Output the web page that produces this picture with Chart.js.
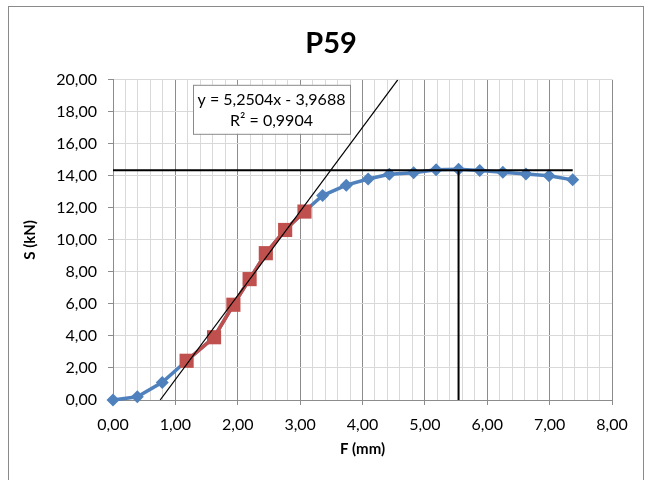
<!DOCTYPE html>
<html>
<head>
<meta charset="utf-8">
<script src="https://cdn.jsdelivr.net/npm/chart.js@4.4.1/dist/chart.umd.min.js"></script>
<style>
  html, body { margin: 0; padding: 0; background: #fff; }
  #wrap { width: 649px; height: 480px; }
</style>
</head>
<body>
<div id="wrap"><canvas id="grafico" width="649" height="480"></canvas></div>
<script>
// Pontos medidos (F em mm, S em kN)
const desloc = [0.00, 0.39, 0.79, 1.18, 1.62, 1.93, 2.19, 2.45, 2.76, 3.07, 3.36, 3.74, 4.09, 4.43, 4.82, 5.18, 5.54, 5.88, 6.25, 6.62, 6.99, 7.37];
const carga  = [0.00, 0.20, 1.10, 2.45, 3.92, 5.95, 7.55, 9.17, 10.62, 11.77, 12.77, 13.42, 13.80, 14.10, 14.20, 14.38, 14.42, 14.33, 14.23, 14.12, 14.00, 13.75];

// trecho usado na regressão (quadrados vermelhos)
const trechoIni = 3;
const trechoFim = 9;

// reta de tendência y = 5,2504x - 3,9688 (extremos)
const tendX = [0.756, 4.565];
const tendY = [0, 20];

// linhas de referência
const cargaMax = 14.35;
const fimHoriz = 7.37;
const deslocMax = 5.54;

const equacao = ['y = 5,2504x - 3,9688', 'R² = 0,9904'];

const fmt = v => v.toFixed(2).replace('.', ',');
const inteiro = v => Math.abs(v - Math.round(v)) < 1e-6;

const pts = (xs, ys) => xs.map((x, i) => ({ x: x, y: ys[i] }));

Chart.defaults.font.family = 'Lato, "Open Sans", sans-serif';
Chart.defaults.color = '#000';

// moldura da área do gráfico
const moldura = {
    id: 'moldura',
    beforeDraw(chart) {
        const c = chart.ctx;
        c.save();
        c.fillStyle = '#fff';
        c.fillRect(0, 0, chart.width, chart.height);
        c.strokeStyle = '#8a8a8a';
        c.lineWidth = 1;
        c.strokeRect(8.5, 6.5, 635, 480);
        c.restore();
    }
};

// caixa com a equação da reta
const caixaEq = {
    id: 'caixaEq',
    afterDatasetsDraw(chart) {
        const c = chart.ctx;
        const a = chart.chartArea;
        const x0 = a.left + 80, y0 = a.top + 5, w = 157, h = 49;
        c.save();
        c.fillStyle = '#fff';
        c.fillRect(x0, y0, w, h);
        c.strokeStyle = '#8a8a8a';
        c.lineWidth = 1;
        c.strokeRect(x0 + 0.5, y0 + 0.5, w, h);
        c.fillStyle = '#000';
        c.font = '16px Lato, "Open Sans", sans-serif';
        c.textAlign = 'center';
        c.textBaseline = 'middle';
        c.fillText(equacao[0], x0 + w / 2, y0 + 15);
        c.fillText(equacao[1], x0 + w / 2, y0 + 36);
        c.restore();
    }
};

const ctx = document.getElementById('grafico').getContext('2d');
new Chart(ctx, {
    type: 'line',
    data: {
        datasets: [
            {
                data: pts(tendX, tendY),
                borderColor: '#000',
                borderWidth: 1.2,
                pointRadius: 0
            },
            {
                data: [{ x: 0, y: cargaMax }, { x: fimHoriz, y: cargaMax }],
                borderColor: '#000',
                borderWidth: 2,
                pointRadius: 0
            },
            {
                data: [{ x: deslocMax, y: 0 }, { x: deslocMax, y: cargaMax }],
                borderColor: '#000',
                borderWidth: 2,
                pointRadius: 0
            },
            {
                data: pts(desloc, carga).slice(trechoIni, trechoFim + 1),
                borderColor: '#C0504D',
                backgroundColor: '#C0504D',
                borderWidth: 3.5,
                pointStyle: 'rect',
                pointRadius: 10,
                pointBorderWidth: 0,
                clip: false
            },
            {
                data: pts(desloc, carga),
                borderColor: '#4F81BD',
                backgroundColor: '#4F81BD',
                borderWidth: 3.5,
                pointStyle: 'rectRot',
                pointRadius: 6.5,
                pointBorderWidth: 0,
                clip: false
            }
        ]
    },
    options: {
        responsive: false,
        animation: false,
        layout: { padding: { left: 50, right: 37, top: 6, bottom: 0 } },
        plugins: {
            legend: { display: false },
            tooltip: { enabled: false },
            title: {
                display: true,
                text: 'P59',
                font: { size: 29, weight: 'bold' },
                padding: { top: 20, bottom: 19 }
            }
        },
        scales: {
            x: {
                type: 'linear',
                min: 0,
                max: 8,
                afterFit: s => { s.height = 80; },
                ticks: {
                    stepSize: 0.2,
                    autoSkip: false,
                    maxRotation: 0,
                    maxTicksLimit: 100,
                    padding: 10,
                    font: { size: 16 },
                    callback: v => inteiro(v) ? fmt(v) : ''
                },
                grid: {
                    color: c => inteiro(c.tick.value) ? '#8c8c8c' : '#d9d9d9',
                    tickColor: c => inteiro(c.tick.value) ? '#8c8c8c' : 'rgba(0,0,0,0)',
                    tickLength: 5
                },
                border: { color: '#8c8c8c' },
                title: {
                    display: true,
                    text: 'F (mm)',
                    font: { size: 15, weight: 'bold' },
                    padding: { top: 0, bottom: 22 }
                }
            },
            y: {
                min: 0,
                max: 20,
                afterFit: s => { s.width = 63; },
                ticks: {
                    stepSize: 2,
                    padding: 11,
                    font: { size: 16 },
                    callback: v => fmt(v)
                },
                grid: {
                    color: '#d9d9d9',
                    tickColor: '#8c8c8c',
                    tickLength: 5
                },
                border: { color: '#8c8c8c' },
                title: {
                    display: true,
                    text: 'S (kN)',
                    font: { size: 15, weight: 'bold' },
                    padding: { top: -29, bottom: 0 }
                }
            }
        }
    },
    plugins: [moldura, caixaEq]
});
</script>
</body>
</html>
